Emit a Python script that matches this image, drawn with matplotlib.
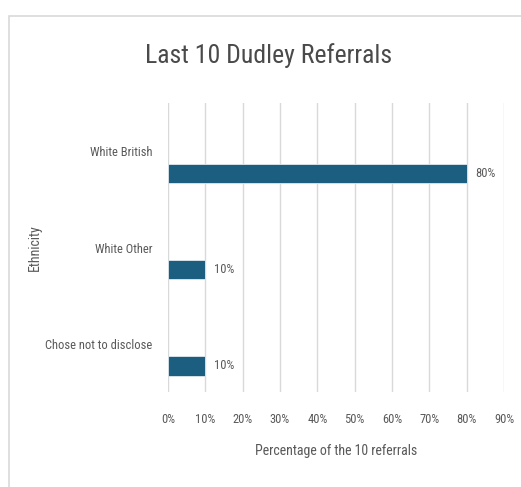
import matplotlib
matplotlib.use("Agg")
import matplotlib.pyplot as plt
from matplotlib.patches import Rectangle
from matplotlib.ticker import PercentFormatter

categories = ["White British", "White Other", "Chose not to disclose"]
values = [80, 10, 10]
x_ticks = [0, 10, 20, 30, 40, 50, 60, 70, 80, 90]

BAR_COLOR = "#1b5e7f"
TEXT_COLOR = "#595959"
FONT = ["Roboto Condensed", "DejaVu Sans"]

plt.rcParams["font.family"] = FONT

fig = plt.figure(figsize=(5.21, 4.87), dpi=100)
# plot area in figure pixels: x 168..504, y 103..392 (from top)
W, H = 521, 487
ax = fig.add_axes([168 / W, 1 - 392 / H, (504 - 168) / W, (392 - 103) / H])

# chart border (cropped on the right and bottom)
fig.patches.append(Rectangle((9 / W, -0.05), 1.1, 1 - 16 / H + 0.05, transform=fig.transFigure,
                             fill=False, edgecolor="#d9d9d9", linewidth=1.2))

pos = list(range(len(categories)))
bar_pos = [p + 0.23 for p in pos]
ax.barh(bar_pos, values, height=0.2, color=BAR_COLOR, edgecolor="#dfe8ee", linewidth=0.6, zorder=3)

for y, v in zip(bar_pos, values):
    ax.text(v + 2.2, y, f"{v}%", va="center", ha="left", fontsize=9, color=TEXT_COLOR)

ax.set_ylim(len(categories) - 0.5, -0.5)
ax.set_xlim(0, 90)
ax.set_yticks(pos)
ax.set_yticklabels(categories, fontsize=9, color=TEXT_COLOR)
ax.set_xticks(x_ticks)
ax.xaxis.set_major_formatter(PercentFormatter(decimals=0))
ax.tick_params(axis="x", labelsize=9, labelcolor=TEXT_COLOR, length=0, pad=15)
ax.tick_params(axis="y", length=0, pad=11)

ax.grid(axis="x", color="#d9d9d9", linewidth=1, zorder=0)
for s in ax.spines.values():
    s.set_visible(False)

ax.set_xlabel("Percentage of the 10 referrals", fontsize=10, color=TEXT_COLOR, labelpad=13)
fig.text(35 / W, 1 - 248 / H, "Ethnicity", rotation=90, ha="center", va="center",
         fontsize=10, color=TEXT_COLOR)

fig.text(269 / W, 1 - 56 / H, "Last 10 Dudley Referrals", ha="center", va="center",
         fontsize=18.5, fontweight="normal", color="#4a4a4a")

fig.savefig("out.png", dpi=100)
